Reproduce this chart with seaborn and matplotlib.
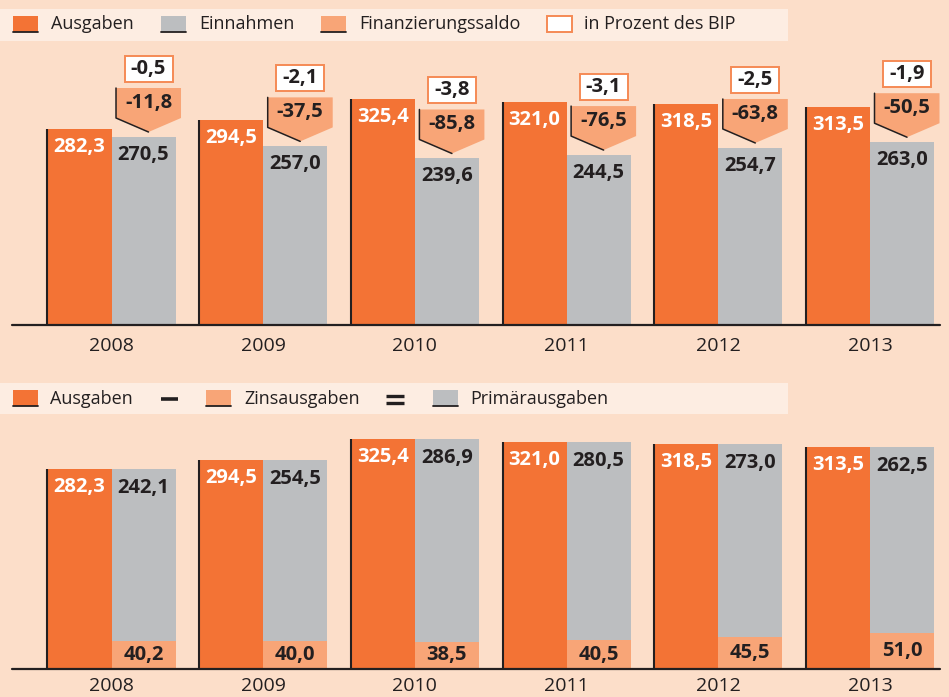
import numpy as np
import pandas as pd
import seaborn as sns
import matplotlib.pyplot as plt
from matplotlib.patches import Rectangle, Polygon
from matplotlib.lines import Line2D

# %%
years = ['2008', '2009', '2010', '2011', '2012', '2013']
ausgaben = [282.3, 294.5, 325.4, 321.0, 318.5, 313.5]
einnahmen = [270.5, 257.0, 239.6, 244.5, 254.7, 263.0]
saldo = [-11.8, -37.5, -85.8, -76.5, -63.8, -50.5]
bip_prozent = [-0.5, -2.1, -3.8, -3.1, -2.5, -1.9]
zinsausgaben = [40.2, 40.0, 38.5, 40.5, 45.5, 51.0]
primaerausgaben = [242.1, 254.5, 286.9, 280.5, 273.0, 262.5]

orange = '#F37335'
grau = '#BCBEC0'
hellorange = '#F8A577'
hintergrund = '#FCDEC9'
band = '#FDEDE2'
dunkel = '#231F20'

sns.set_style('white')
plt.rcParams['font.family'] = ['Open Sans', 'DejaVu Sans']

W, H = 949, 697
fig = plt.figure(figsize=(9.49, 6.97), dpi=100, facecolor=hintergrund)


def fx(px):
    return px / W


def fy(py):
    return 1 - py / H


def de(v):
    return f'{v:.1f}'.replace('.', ',')


# group centres sit at 111.5 px (2008) and 870 px (2013)
step = (870 - 111.5) / 5
dx = 1 / step
xlim = (-111.5 / step, 5 + (W - 870) / step)


def style_axes(ax, pad):
    ax.set_facecolor('none')
    ax.set_xlim(*xlim)
    ax.set_yticks([])
    ax.set_xlabel('')
    ax.set_ylabel('')
    sns.despine(ax=ax, left=True, bottom=True)
    ax.tick_params(axis='x', length=0, pad=pad, labelsize=14, colors=dunkel)
    ax.axhline(0, xmin=fx(12), xmax=fx(940), color=dunkel, lw=1.6, clip_on=False, zorder=5)


# %% oberes Diagramm: Ausgaben / Einnahmen
top1, base1 = 45, 325
py1 = 0.695
ax1 = fig.add_axes([0, fy(base1), 1, (base1 - top1) / H])
df1 = pd.DataFrame({'Jahr': years * 2,
                    'Reihe': ['Ausgaben'] * 6 + ['Einnahmen'] * 6,
                    'Wert': ausgaben + einnahmen})
sns.barplot(data=df1, x='Jahr', y='Wert', hue='Reihe', palette=[orange, grau],
            width=0.844, saturation=1, linewidth=0, errorbar=None, legend=False, ax=ax1)
ax1.set_ylim(0, (base1 - top1) / py1)
style_axes(ax1, 8.5)

for bar, v in zip(ax1.containers[0], ausgaben):
    xc = bar.get_x() + bar.get_width() / 2
    ax1.vlines(bar.get_x(), 0, v, color=dunkel, lw=1.5)
    ax1.text(xc, v - 18 / py1, de(v), ha='center', va='center', color='white',
             fontsize=14.5, fontweight='bold')

for bar, v, s, p in zip(ax1.containers[1], einnahmen, saldo, bip_prozent):
    xb = bar.get_x() + bar.get_width() / 2
    ax1.text(xb, v - 18 / py1, de(v), ha='center', va='center', color=dunkel,
             fontsize=14.5, fontweight='bold')
    # Finanzierungssaldo-Pfeil
    xc = xb + 5 * dx
    hw = 32.5 * dx
    tip = v + 5 / py1
    sh = v + 19 / py1
    tp = v + 49 / py1
    ax1.add_patch(Polygon([(xc - hw, tp), (xc + hw, tp), (xc + hw, sh), (xc, tip), (xc - hw, sh)],
                          closed=True, facecolor=hellorange, edgecolor='none'))
    ax1.plot([xc - hw, xc - hw, xc], [tp, sh, tip], color=dunkel, lw=1.1)
    ax1.text(xc, (tp + sh) / 2, de(s), ha='center', va='center', color=dunkel,
             fontsize=14.5, fontweight='bold')
    # in Prozent des BIP
    bw = 48 * dx
    bb = tp + 6 / py1
    bh = 26 / py1
    ax1.add_patch(Rectangle((xc - bw / 2, bb), bw, bh, facecolor='white',
                            edgecolor='#F58A55', lw=1.4))
    ax1.text(xc, bb + bh / 2, de(p), ha='center', va='center', color=dunkel,
             fontsize=14.5, fontweight='bold')

# %% unteres Diagramm: Ausgaben = Zins + Primär
top2, base2 = 420, 669
py2 = 0.708
ax2 = fig.add_axes([0, fy(base2), 1, (base2 - top2) / H])
df2 = pd.DataFrame({'Jahr': years * 2,
                    'Reihe': ['Ausgaben'] * 6 + ['Primärausgaben'] * 6,
                    'Wert': ausgaben + [p + z for p, z in zip(primaerausgaben, zinsausgaben)]})
sns.barplot(data=df2, x='Jahr', y='Wert', hue='Reihe', palette=[orange, grau],
            width=0.844, saturation=1, linewidth=0, errorbar=None, legend=False, ax=ax2)
ax2.set_ylim(0, (base2 - top2) / py2)
style_axes(ax2, 5.5)

for bar, v in zip(ax2.containers[0], ausgaben):
    xc = bar.get_x() + bar.get_width() / 2
    ax2.vlines(bar.get_x(), 0, v, color=dunkel, lw=1.5)
    ax2.text(xc, v - 18 / py2, de(v), ha='center', va='center', color='white',
             fontsize=14.5, fontweight='bold')

for bar, z, p in zip(ax2.containers[1], zinsausgaben, primaerausgaben):
    xc = bar.get_x() + bar.get_width() / 2
    ax2.bar(bar.get_x(), z, width=bar.get_width(), align='edge', color=hellorange, linewidth=0)
    ax2.text(xc, z / 2, de(z), ha='center', va='center', color=dunkel,
             fontsize=14.5, fontweight='bold')
    ax2.text(xc, z + p - 19 / py2, de(p), ha='center', va='center', color=dunkel,
             fontsize=14.5, fontweight='bold')


# %% Legenden
def legend_band(y0, y1):
    fig.add_artist(Rectangle((0, fy(y1)), fx(788), (y1 - y0) / H, facecolor=band,
                             edgecolor='none', transform=fig.transFigure))


def swatch(xp, yp, farbe, rand=None):
    if rand:
        fig.add_artist(Rectangle((fx(xp), fy(yp + 16)), fx(25), 16 / H, facecolor=farbe,
                                 edgecolor=rand, lw=1.4, transform=fig.transFigure))
    else:
        fig.add_artist(Rectangle((fx(xp), fy(yp + 16)), fx(25), 16 / H, facecolor=farbe,
                                 edgecolor='none', transform=fig.transFigure))
        fig.add_artist(Line2D([fx(xp), fx(xp + 25)], [fy(yp + 15.5)] * 2, color=dunkel,
                              lw=1.3, transform=fig.transFigure))


def label(xp, yp, txt, **kw):
    fig.text(fx(xp), fy(yp), txt, ha='left', va='center', color=dunkel, fontsize=13, **kw)


legend_band(9, 41)
swatch(13, 16, orange)
label(51, 24, 'Ausgaben')
swatch(161, 16, grau)
label(199, 24, 'Einnahmen')
swatch(321, 16, hellorange)
label(359, 24, 'Finanzierungssaldo')
swatch(547, 16, 'white', rand='#F58A55')
label(584, 24, 'in Prozent des BIP')

legend_band(383, 414)
swatch(13, 390, orange)
label(50, 399, 'Ausgaben')
# Rechenzeichen zwischen den Legendeneinträgen
fig.add_artist(Line2D([fx(161), fx(178)], [fy(399.5)] * 2, color=dunkel, lw=2.6,
                      solid_capstyle='butt', transform=fig.transFigure))
swatch(206, 390, hellorange)
label(244, 399, 'Zinsausgaben')
for yy in (396, 402.5):
    fig.add_artist(Line2D([fx(386), fx(404)], [fy(yy)] * 2, color=dunkel, lw=2.4,
                          solid_capstyle='butt', transform=fig.transFigure))
swatch(433, 390, grau)
label(470, 399, 'Primärausgaben')

fig.savefig('out.png', dpi=100, facecolor=hintergrund)
